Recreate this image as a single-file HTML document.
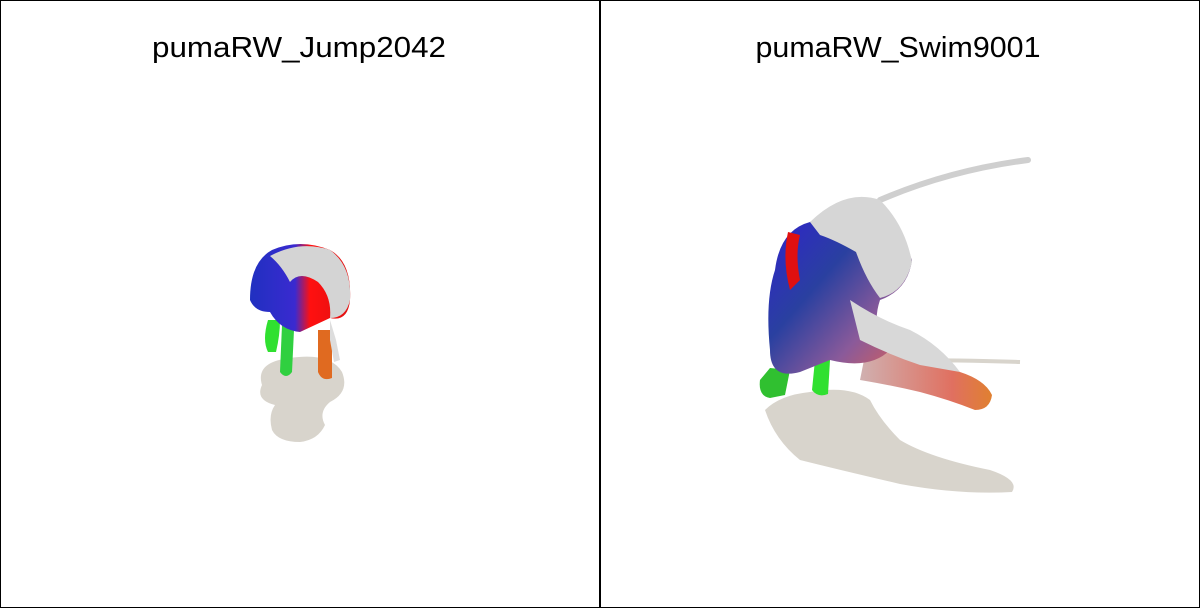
<!DOCTYPE html>
<html>
<head>
<meta charset="utf-8">
<style>
html,body{margin:0;padding:0;background:#fff;}
body{width:1200px;height:608px;overflow:hidden;font-family:"Liberation Sans",sans-serif;}
svg{display:block;}
text{font-family:"Liberation Sans",sans-serif;}
</style>
</head>
<body>
<svg width="1200" height="608" viewBox="0 0 1200 608">
  <defs>
    <linearGradient id="bodyL" x1="0" y1="0" x2="1" y2="0">
      <stop offset="0" stop-color="#2030c0"/>
      <stop offset="0.45" stop-color="#3a2ad0"/>
      <stop offset="0.6" stop-color="#ff1010"/>
      <stop offset="1" stop-color="#e01010"/>
    </linearGradient>
    <linearGradient id="bodyR" x1="0" y1="0" x2="1" y2="1">
      <stop offset="0" stop-color="#3020d0"/>
      <stop offset="0.4" stop-color="#2a40a0"/>
      <stop offset="0.7" stop-color="#8a5a9a"/>
      <stop offset="1" stop-color="#e06050"/>
    </linearGradient>
    <linearGradient id="legR" x1="0" y1="0" x2="1" y2="0">
      <stop offset="0" stop-color="#d0b0b0"/>
      <stop offset="0.7" stop-color="#e07060"/>
      <stop offset="1" stop-color="#e08030"/>
    </linearGradient>
  </defs>

  <rect x="0.5" y="0.5" width="1199" height="607" fill="#fff" stroke="#000" stroke-width="1"/>
  <line x1="600" y1="0" x2="600" y2="608" stroke="#000" stroke-width="2"/>

  <g>
    <text x="299" y="57" text-anchor="middle" font-size="29" textLength="294" lengthAdjust="spacingAndGlyphs" fill="#000">pumaRW_Jump2042</text>
    <path d="M262,385 Q255,362 290,358 Q330,352 342,372 Q350,392 330,402 Q318,412 325,425 Q318,440 300,442 Q278,442 272,430 Q268,415 275,405 Q255,400 262,385 Z" fill="#d8d4cc"/>
    <path d="M268,320 Q262,340 268,352 L276,352 Q280,335 280,320 Z" fill="#30e030"/>
    <path d="M282,325 L280,372 Q286,380 292,372 L294,330 Z" fill="#30d040"/>
    <path d="M318,330 L318,372 Q322,382 332,378 L332,330 Z" fill="#e06a20"/>
    <path d="M250,300 Q250,262 272,250 Q300,238 330,250 Q352,262 350,300 Q348,322 330,318 L300,332 Q280,330 270,312 Q255,312 250,300 Z" fill="url(#bodyL)"/>
    <path d="M270,256 Q300,240 330,250 Q352,266 350,300 Q346,318 330,318 Q332,296 318,282 Q300,270 290,282 Q282,266 270,256 Z" fill="#d4d4d4"/>
    <path d="M330,320 L336,340 L340,360 L334,362 L330,340 Z" fill="#ddd"/>
  </g>

  <g>
    <text x="898" y="57" text-anchor="middle" font-size="29" textLength="285" lengthAdjust="spacingAndGlyphs" fill="#000">pumaRW_Swim9001</text>
    <path d="M765,410 Q780,395 810,392 Q850,385 870,400 Q880,420 900,440 Q930,458 990,470 Q1020,480 1012,492 Q960,495 900,484 Q840,470 800,460 Q775,440 765,410 Z" fill="#d8d4cc"/>
    <path d="M880,360 Q960,360 1020,362" stroke="#d8d4cc" stroke-width="4" fill="none"/>
    <path d="M880,200 Q950,170 1028,160" stroke="#cfcfcf" stroke-width="6" fill="none" stroke-linecap="round"/>
    <path d="M870,330 Q920,350 960,372 Q985,380 992,395 Q990,410 975,410 Q950,400 920,392 Q890,385 860,380 Z" fill="url(#legR)"/>
    <path d="M760,380 Q758,396 770,398 L785,395 L790,370 L770,368 Z" fill="#30c030"/>
    <path d="M815,360 L812,390 Q818,398 828,394 L830,360 Z" fill="#30e030"/>
    <path d="M775,270 Q780,230 810,222 Q845,205 870,210 Q900,230 912,260 Q908,290 880,300 Q870,330 890,350 Q870,370 830,360 L800,372 Q770,380 770,350 Q765,300 775,270 Z" fill="url(#bodyR)"/>
    <path d="M810,222 Q845,188 880,200 Q905,225 912,262 Q905,292 880,298 Q866,280 856,252 Q835,240 820,235 Z" fill="#d6d6d6"/>
    <path d="M850,300 Q880,320 910,330 Q940,345 960,372 L920,365 Q890,355 860,340 Z" fill="#d8d8d8"/>
    <path d="M788,232 Q782,260 790,290 L800,280 Q795,255 800,235 Z" fill="#e01010"/>
  </g>
</svg>
</body>
</html>
